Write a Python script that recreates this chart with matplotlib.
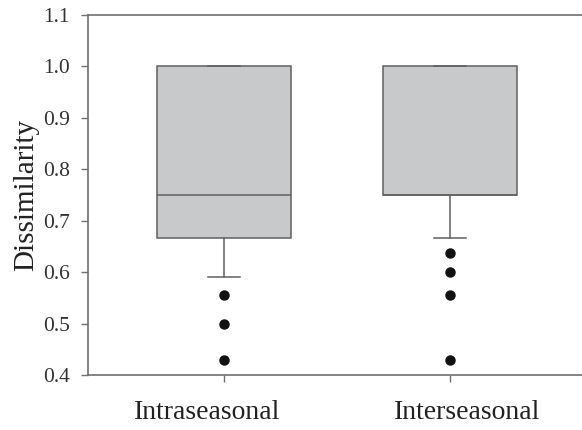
import matplotlib
matplotlib.use('Agg')
import matplotlib.pyplot as plt
import matplotlib.transforms as mtransforms

# box statistics
groups = ['Intraseasonal', 'Interseasonal']
q1 = [0.667, 0.75]
med = [0.75, 0.75]
q3 = [1.0, 1.0]
whislo = [0.59, 0.667]
whishi = [1.0, 1.0]
fliers = [[0.556, 0.50, 0.43], [0.637, 0.60, 0.556, 0.43]]

plt.rcParams['font.family'] = ['Liberation Serif', 'DejaVu Serif']

fig = plt.figure(figsize=(5.82, 4.30), dpi=100)
ax = fig.add_axes([88/582, 1 - 375/430, (582 - 88)/582, 360/430])

stats = []
for i in range(len(groups)):
    stats.append({'label': groups[i], 'q1': q1[i], 'med': med[i], 'q3': q3[i],
                  'whislo': whislo[i], 'whishi': whishi[i], 'fliers': fliers[i]})

positions = [1, 2]
edge = '#606060'
ax.bxp(stats, positions=positions, widths=0.597, patch_artist=True,
       boxprops=dict(facecolor='#c8c9cb', edgecolor=edge, linewidth=1.1),
       medianprops=dict(color=edge, linewidth=1.1),
       whiskerprops=dict(color=edge, linewidth=1.1),
       capprops=dict(color=edge, linewidth=1.1),
       capwidths=0.14,
       flierprops=dict(marker='o', markerfacecolor='#111111', markeredgecolor='#111111',
                       markersize=6.5))

ax.set_xlim(1 - 136/226, 2 + 132/226)
ax.set_ylim(0.4, 1.1)
ax.set_yticks([0.4, 0.5, 0.6, 0.7, 0.8, 0.9, 1.0, 1.1])
ax.set_yticklabels(['0.4', '0.5', '0.6', '0.7', '0.8', '0.9', '1.0', '1.1'])
ax.set_xticks(positions)
ax.set_xticklabels([])

# category names sit a bit off their ticks in the original
shifts = [-17, 17]
base = mtransforms.blended_transform_factory(ax.transData, ax.transAxes)
for p, name, dx in zip(positions, groups, shifts):
    tr = base + mtransforms.ScaledTranslation(dx/100, -25/100, fig.dpi_scale_trans)
    ax.text(p, 0, name, transform=tr, ha='center', va='top',
            fontsize=20, color='#222222')

for s in ['left', 'bottom', 'top']:
    ax.spines[s].set_color('#707070')
    ax.spines[s].set_linewidth(1.2)
ax.spines['right'].set_visible(False)

ax.tick_params(axis='y', direction='out', length=5, width=1, color='#707070',
               labelsize=15.5, labelcolor='#333333', pad=8)
ax.tick_params(axis='x', direction='out', length=5, width=1, color='#707070')

ax.set_ylabel('Dissimilarity', fontsize=21, color='#222222', labelpad=3)

fig.savefig('out.png', dpi=100)
